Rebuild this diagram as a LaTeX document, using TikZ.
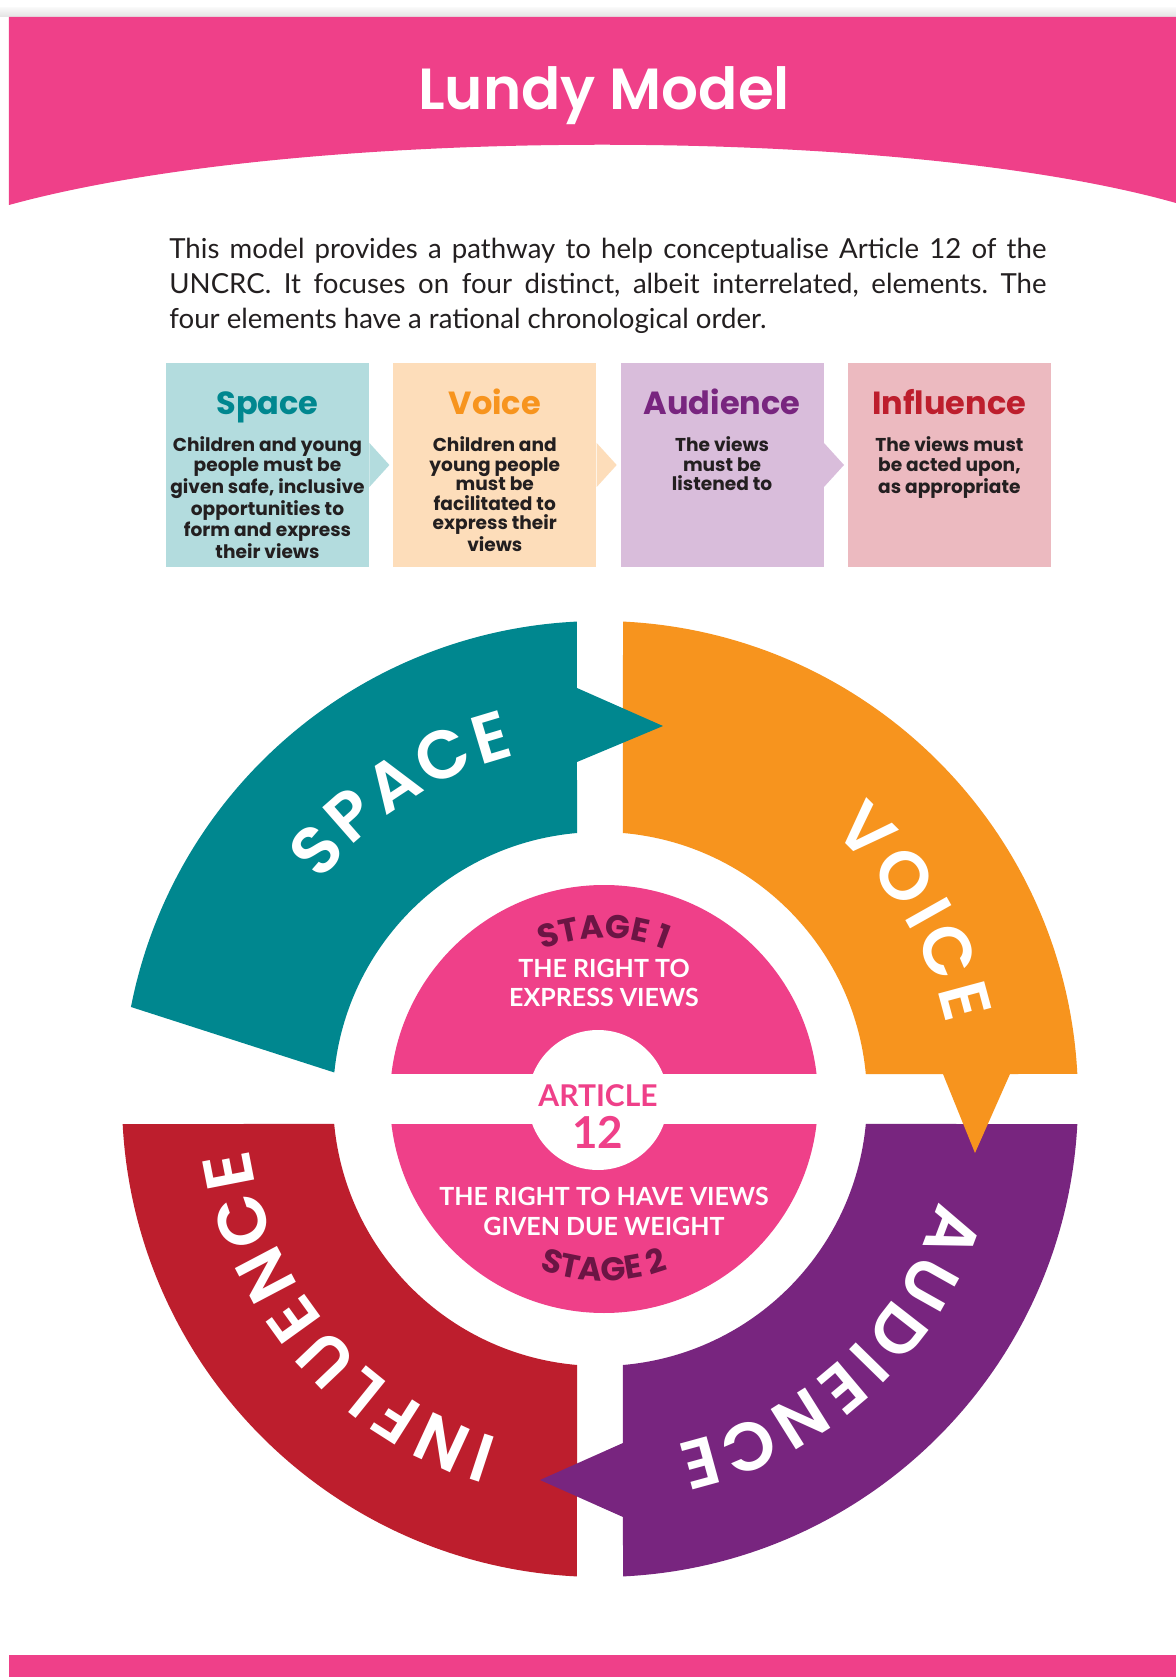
\documentclass[tikz,border=0pt]{standalone}
\usepackage{fontspec}
\setmainfont{Lato}
\newfontfamily\headfont{Poppins}
\newfontfamily\ringfont{Poppins SemiBold}
\newfontfamily\titlefont{Poppins SemiBold}
\usetikzlibrary{positioning,decorations.text}

\definecolor{lundypink}{HTML}{EF4089}
\definecolor{spacecol}{HTML}{00878F}
\definecolor{voicecol}{HTML}{F7941E}
\definecolor{audcol}{HTML}{78257F}
\definecolor{inflcol}{HTML}{BD1E2D}
\definecolor{spacelt}{HTML}{B3DCDE}
\definecolor{voicelt}{HTML}{FDDDBA}
\definecolor{audlt}{HTML}{D9BDDB}
\definecolor{infllt}{HTML}{ECBAC0}
\definecolor{stagecol}{HTML}{6B1544}
\definecolor{inkcol}{HTML}{231F20}

\tikzset{
  elbox/.style={minimum width=101.5pt,minimum height=102pt,inner sep=0pt},
  elhead/.style={anchor=base,font=\headfont\bfseries\fontsize{16}{18}\selectfont},
  elbody/.style={anchor=north,align=center,inner sep=0pt,text=inkcol,font=\headfont\bfseries\fontsize{9.3}{9.7}\selectfont},
  ringletter/.style={text=white,inner sep=0pt,font=\ringfont\fontsize{34}{36}\selectfont},
  midtext/.style={text=white,align=center,inner sep=0pt,font=\bfseries\fontsize{12.5}{14.5}\selectfont},
  stagetext/.style={decorate,decoration={text along path,text align=center,text color=stagecol,text={|\headfont\bfseries\fontsize{16.4}{18}\selectfont|#1}}}
}

\begin{document}
\frenchspacing
\begin{tikzpicture}[x=0.5pt,y=0.5pt]
  \useasboundingbox (-600,-578) rectangle (576,1099);
  \fill[white] (-600,-578) rectangle (576,1099);

  % header
  \shade[top color=gray!6,bottom color=gray!22] (-600,1082) rectangle (576,1091);
  \fill[lundypink] (-591,1082) -- (576,1082) -- (576,896) .. controls (300,974) and (-300,974) .. (-591,894) -- cycle;
  \node[anchor=base,text=white,font=\titlefont\fontsize{29}{30}\selectfont] (title) at (4,989) {Lundy Model};

  \node[anchor=north west,inner sep=0pt,text width=438.5pt,align=justify,text=inkcol,font=\fontsize{13.8}{17.5}\selectfont] (intro) at (-431,861)
    {This model provides a pathway to help conceptualise Article 12 of the\linebreak UNCRC. It focuses on four distinct, albeit interrelated, elements. The\linebreak four elements have a rational chronological order.};

  % the four elements
  \node[elbox,fill=spacelt] (space) at (-332.5,634) {};
  \node[elbox,fill=voicelt,right=11.75pt of space] (voice) {};
  \node[elbox,fill=audlt,right=11.75pt of voice] (aud) {};
  \node[elbox,fill=infllt,right=11.75pt of aud] (infl) {};
  \fill[spacelt] ([yshift=11pt]space.east) -- ([xshift=10pt]space.east) -- ([yshift=-11pt]space.east) -- cycle;
  \fill[voicelt] ([yshift=11pt]voice.east) -- ([xshift=10pt]voice.east) -- ([yshift=-11pt]voice.east) -- cycle;
  \fill[audlt] ([yshift=11pt]aud.east) -- ([xshift=10pt]aud.east) -- ([yshift=-11pt]aud.east) -- cycle;

  \node[elhead,text=spacecol] (spacehead) at ([yshift=-26pt]space.north) {Space};
  \node[elhead,text=voicecol] (voicehead) at ([yshift=-26pt]voice.north) {Voice};
  \node[elhead,text=audcol] (audhead) at ([yshift=-26pt]aud.north) {Audience};
  \node[elhead,text=inflcol] (inflhead) at ([yshift=-26pt]infl.north) {Influence};
  \node[elbody] (spacetxt) at ([yshift=-37pt]space.north) {Children and young\\people must be\\given safe, inclusive\\opportunities to\\form and express\\their views};
  \node[elbody] (voicetxt) at ([yshift=-37pt]voice.north) {Children and\\young people\\must be\\facilitated to\\express their\\views};
  \node[elbody] (audtxt) at ([yshift=-37pt]aud.north) {The views\\must be\\listened to};
  \node[elbody] (infltxt) at ([yshift=-37pt]infl.north) {The views must\\be acted upon,\\as appropriate};

  % ring, each arrow lies over the next segment
  \fill[inflcol] (183:478) -- (185.37:267) arc[start angle=185.37,end angle=265.06,radius=267] -- (267.24:478) arc[start angle=267.24,end angle=183,radius=478] -- cycle;
  \fill[audcol] (-5.37:267) -- (-3:478) arc[start angle=-3,end angle=-87.24,radius=478] -- (23,-418) -- (-60,-381) -- (23,-344) -- (-85.06:267) arc[start angle=-85.06,end angle=-5.37,radius=267] -- cycle;
  \fill[voicecol] (87.24:478) arc[start angle=87.24,end angle=3,radius=478] -- (410,25) -- (375,-54) -- (343,25) -- (5.37:267) arc[start angle=5.37,end angle=85.06,radius=267] -- cycle;
  \fill[spacecol] (-23,337) -- (63,373) -- (-23,411) -- (92.76:478) arc[start angle=92.76,end angle=168.9,radius=478] -- (174.3:267) arc[start angle=174.3,end angle=94.94,radius=267] -- cycle;

  \foreach \ch/\ang [count=\i] in {S/138.76,P/131.28,A/123.24,C/114.63,E/106.74}
    \node[ringletter,rotate=\ang-90] (sp\i) at (\ang:378) {\ch};
  \foreach \ch/\ang [count=\i] in {V/45.13,O/36.21,I/29.40,C/22.96,E/15.07}
    \node[ringletter,rotate=\ang-90] (vo\i) at (\ang:378) {\ch};
  \foreach \ch/\ang [count=\i] in {A/-20.74,U/-29.30,D/-37.96,I/-44.35,E/-49.92,N/-57.91,C/-66.78,E/-74.67}
    \node[ringletter,rotate=\ang-90] (au\i) at (\ang:378) {\ch};
  \foreach \ch/\ang [count=\i] in {I/-108.12,N/-114.67,F/-122.51,L/-128.96,U/-136.39,E/-144.23,N/-152.22,C/-161.09,E/-168.98}
    \node[ringletter,rotate=\ang-90] (in\i) at (\ang:378) {\ch};

  % article 12 disc
  \fill[lundypink] (4,0) circle[radius=214];
  \fill[white] (-215,-25) rectangle (220,25);
  \fill[white] (-2,-1) circle[radius=70];
  \path[stagetext={STAGE 1}] ([shift={(125:161)}]4,0) arc[start angle=125,end angle=55,radius=161];
  \path[stagetext={STAGE 2}] ([shift={(235:182)}]4,0) arc[start angle=235,end angle=305,radius=182];
  \node[midtext] (express) at (4,116) {THE RIGHT TO\\EXPRESS VIEWS};
  \node[midtext,font=\bfseries\fontsize{12.5}{15}\selectfont] (weight) at (4,-112) {THE RIGHT TO HAVE VIEWS\\GIVEN DUE WEIGHT};
  \node[text=lundypink,inner sep=0pt,font=\bfseries\fontsize{15}{15}\selectfont] (article) at (-2,3) {ARTICLE};
  \node[text=lundypink,inner sep=0pt,font=\bfseries\fontsize{22}{22}\selectfont] (twelve) at (-2,-33) {12};

  % footer
  \fill[lundypink] (-591,-578) rectangle (576,-556);
\end{tikzpicture}
\end{document}
